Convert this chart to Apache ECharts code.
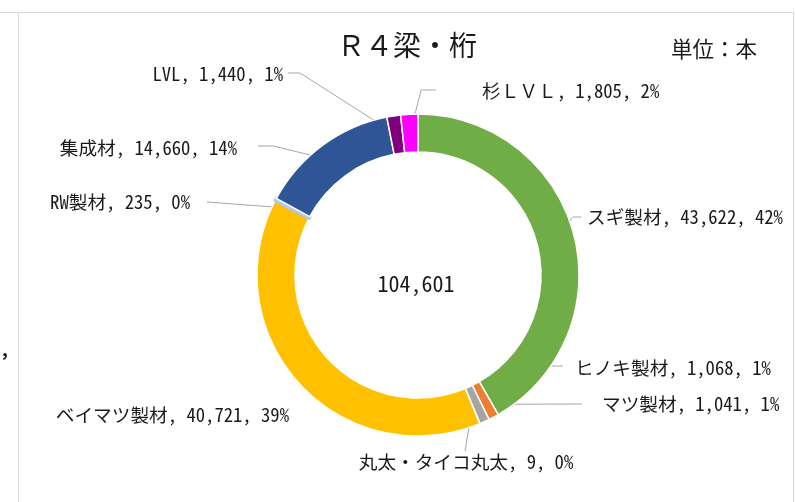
<!DOCTYPE html>
<html><head><meta charset="utf-8">
<script src="https://cdn.jsdelivr.net/npm/echarts@6/dist/echarts.min.js"></script>
<style>html,body{margin:0;padding:0;background:#fff}#c{width:796px;height:502px}</style>
</head><body><div id="c"></div>
<script>
const titleText = 'Ｒ４梁・桁';
const unitText = '単位：本';
const categories = ['スギ製材','ヒノキ製材','マツ製材','丸太・タイコ丸太','ベイマツ製材','RW製材','集成材','LVL','杉ＬＶＬ'];
const values = [43622, 1068, 1041, 9, 40721, 235, 14660, 1440, 1805];
const colors = ['#70AD47','#ED7D31','#A5A5A5','#5B9BD5','#FFC000','#B4C7E7','#2F5597','#7F007F','#FF00FF'];

// label layout (positions of text + leader routes)
const CX = 418, CY = 275, R_IN = 123, R_OUT = 161;
const anchors = [[587,217,'left'],[575,368,'left'],[602,404,'left'],[466,462,'center'],[289,415,'right'],[190,202,'right'],[237,148,'right'],[283,74,'right'],[482,91,'left']];
const routes = [
  [[573,217],[581,217]],
  [[543,366],[563,366]],
  [[582,404]],
  [[465,451]],
  null,
  [[207,202]],
  [[273,146],[258,146]],
  [[300,73],[288,73]],
  [[421,90],[436,90]]
];

const total = values.reduce((a,b)=>a+b,0);
const fmt = v => v.toLocaleString('en-US');
const FONT = "'Noto Sans Mono CJK JP','Noto Sans CJK JP',sans-serif";

// mid angles (clockwise from top) for leader start points
const mids = [];
{ let cum = 0; values.forEach(v => { mids.push((cum + v/2) / total * 2 * Math.PI); cum += v; }); }

const chart = echarts.init(document.getElementById('c'), null, {renderer:'canvas'});
chart.setOption({
  animation: false,
  backgroundColor: '#fff',
  title: {
    text: titleText, left: 402, top: 40, textAlign: 'center', textVerticalAlign: 'middle',
    textStyle: {fontFamily: "'Noto Sans CJK JP',sans-serif", fontSize: 28, fontWeight: 'normal', color: '#1a1a1a'}
  },
  graphic: [
    {type:'rect', shape:{x:18.5, y:12.5, width:775, height:520}, style:{fill:'none', stroke:'#D9D9D9', lineWidth:1}, silent:true},
    {type:'line', shape:{x1:0, y1:12.5, x2:18, y2:12.5}, style:{stroke:'#D9D9D9', lineWidth:1}, silent:true},
    {type:'text', style:{text:',', x:2, y:340, font:"bold 18px 'Noto Sans CJK JP'", fill:'#1a1a1a'}},
    {type:'text', style:{text:unitText, x:757, y:49, align:'right', verticalAlign:'middle', fontFamily:"'Noto Sans CJK JP',sans-serif", fontSize:21.5, fill:'#1a1a1a'}},
    {type:'text', style:{text:fmt(total), x:416, y:284, align:'center', verticalAlign:'middle', fontFamily:FONT, fontSize:22, fill:'#1a1a1a'}}
  ],
  series: [{
    type: 'pie',
    center: [CX, CY],
    radius: [R_IN, R_OUT],
    startAngle: 90,
    clockwise: true,
    avoidLabelOverlap: false,
    data: categories.map((n,i)=>({
      name: n, value: values[i],
      itemStyle: i === 5 ? {color: colors[i], borderColor: colors[i], borderWidth: 3.5} : {color: colors[i]},
      labelLine: {show: routes[i] !== null}
    })),
    itemStyle: {borderColor: '#fff', borderWidth: 1.5},
    label: {
      show: true, position: 'outside',
      fontFamily: FONT, fontSize: 18.67, color: '#1a1a1a',
      formatter: p => `${p.name}, ${fmt(p.value)}, ${Math.round(p.value/total*100)}%`
    },
    labelLine: {show: true, length: 10, length2: 10, lineStyle: {color:'#A6A6A6', width:1}},
    labelLayout: function (params) {
      const i = params.dataIndex;
      const a = anchors[i];
      const res = {x: a[0], y: a[1], align: a[2], verticalAlign: 'middle'};
      if (routes[i]) {
        const r = (R_IN + R_OUT) / 2;
        const p0 = [CX + r * Math.sin(mids[i]), CY - r * Math.cos(mids[i])];
        res.labelLinePoints = [p0].concat(routes[i]);
        if (res.labelLinePoints.length === 2) res.labelLinePoints.splice(1, 0, routes[i][0]);
      }
      return res;
    },
    emphasis: {disabled: true}
  }]
});
</script>
</body></html>
